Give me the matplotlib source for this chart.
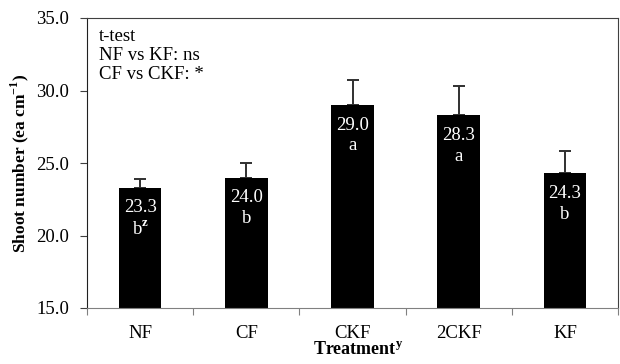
import matplotlib.pyplot as plt
import numpy as np

treatments = ["NF", "CF", "CKF", "2CKF", "KF"]
shoot_mean = [23.3, 24.0, 29.0, 28.3, 24.3]
shoot_err = [0.6, 1.0, 1.7, 2.0, 1.5]
letters = ["b", "b", "a", "a", "b"]

plt.rcParams["font.family"] = ["Liberation Serif", "DejaVu Serif"]
plt.rcParams["mathtext.fontset"] = "custom"
plt.rcParams["mathtext.rm"] = "Liberation Serif"
plt.rcParams["mathtext.bf"] = "Liberation Serif:bold"

fig = plt.figure(figsize=(6.2, 3.64), dpi=100)
ax = fig.add_axes([87 / 620, 1 - 308 / 364, 531 / 620, 290 / 364])

x = np.arange(len(treatments))
ax.bar(x, shoot_mean, width=0.4, color="black", zorder=2)
ax.errorbar(x, shoot_mean, yerr=[np.zeros(len(x)), shoot_err], fmt="none",
            ecolor="#303030", elinewidth=1.4, capsize=4.5, capthick=1.4, zorder=1)

# value and letter inside each bar
for i, (v, l) in enumerate(zip(shoot_mean, letters)):
    ax.annotate(f"{v:.1f}", (i, v), xytext=(0, -14.5), textcoords="offset points",
                ha="center", va="center", color="white", fontsize=13.5)
    lab = r"b$^{\mathbf{z}}$" if i == 0 else l
    ax.annotate(lab, (i, v), xytext=(0, -29.5), textcoords="offset points",
                ha="center", va="center", color="white", fontsize=13.5)

ax.set_xlim(-0.5, len(x) - 0.5)
ax.set_ylim(15, 35)
ax.set_yticks([15, 20, 25, 30, 35])
ax.set_yticklabels([f"{t:.1f}" for t in [15, 20, 25, 30, 35]], fontsize=13.5)

# ticks between categories, labels centred
ax.set_xticks(np.arange(-0.5, len(x)), minor=False)
ax.set_xticklabels([])
ax.set_xticks(x, minor=True)
ax.set_xticklabels(treatments, minor=True, fontsize=13.5)
ax.tick_params(axis="x", which="major", direction="out", length=5, color="#808080")
ax.tick_params(axis="x", which="minor", length=0, pad=12)
ax.tick_params(axis="y", direction="out", length=5, color="#404040", pad=8)

for s in ["top", "right"]:
    ax.spines[s].set_color("#404040")
ax.spines["left"].set_color("#202020")
ax.spines["bottom"].set_color("#808080")

ax.text(0.022, 0.965, "t-test\nNF vs KF: ns\nCF vs CKF: *", transform=ax.transAxes,
        ha="left", va="top", fontsize=13.5, linespacing=1.15)

ax.set_ylabel("Shoot number (ea cm$^{\\mathbf{-1}}$)", fontsize=12.5, fontweight="bold")
ax.yaxis.set_label_coords(-0.105, 0.5)
ax.set_xlabel("Treatment$^{\\mathbf{y}}$", fontsize=13, fontweight="bold")
ax.xaxis.set_label_coords(0.51, -0.115)

fig.savefig("out.png", dpi=100)
